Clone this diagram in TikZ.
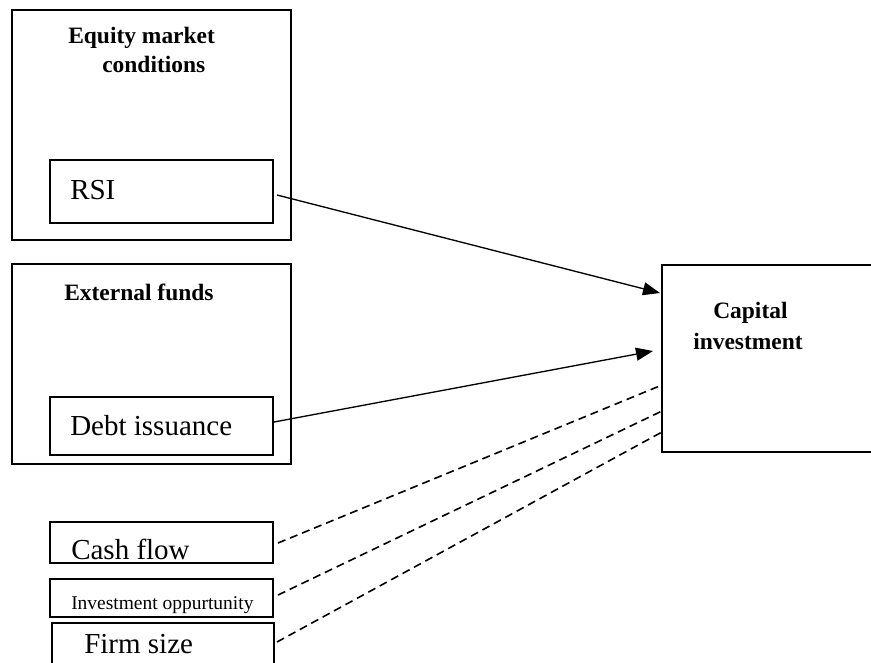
\documentclass[tikz,border=0pt]{standalone}
\usepackage{fontspec}
\setmainfont{Liberation Serif}
\usetikzlibrary{arrows.meta,calc}
\tikzset{
  boxnode/.style={draw, line width=1.5pt, inner sep=0pt, outer sep=0pt, rectangle},
  bigtext/.style={anchor=base west, inner sep=0pt, font=\fontsize{21.75}{26}\selectfont},
  boldtext/.style={anchor=base west, inner sep=0pt, font=\bfseries\fontsize{17.6}{21}\selectfont},
  smalltext/.style={anchor=base west, inner sep=0pt, font=\fontsize{14.6}{17}\selectfont},
  conn/.style={line width=1pt, -{Triangle[length=12.75pt,width=9.75pt]}},
  dconn/.style={line width=1.2pt, dash pattern=on 6pt off 3.75pt},
}
\begin{document}
\begin{tikzpicture}[x=0.75pt,y=-0.75pt]
\useasboundingbox (0,0) rectangle (871,662);
% outer boxes
\node[boxnode, minimum width=279*0.75pt, minimum height=230.5*0.75pt] (eq) at (151.5,125) {};
\node[boxnode, minimum width=279*0.75pt, minimum height=200*0.75pt] (ext) at (151.5,364) {};
% inner boxes
\node[boxnode, minimum width=223*0.75pt, minimum height=63*0.75pt] (rsi) at (161.5,191.5) {};
\node[boxnode, minimum width=223*0.75pt, minimum height=58*0.75pt] (debt) at (161.5,426) {};
\node[boxnode, minimum width=223*0.75pt, minimum height=41*0.75pt] (cash) at (161.5,542.5) {};
\node[boxnode, minimum width=223*0.75pt, minimum height=38*0.75pt] (inv) at (161.5,598) {};
\node[boxnode, minimum width=222*0.75pt, minimum height=66*0.75pt] (firm) at (163,656) {};
\node[boxnode, minimum width=218*0.75pt, minimum height=187*0.75pt] (cap) at (771,358.5) {};
% texts
\node[boldtext] (t1) at (68,43) {Equity market};
\node[boldtext] (t2) at (102,72) {conditions};
\node[bigtext] (t3) at (70,199) {RSI};
\node[boldtext] (t4) at (64,300.5) {External funds};
\node[bigtext] (t5) at (70,435) {Debt issuance};
\node[bigtext] (t6) at (71,559) {Cash flow};
\node[smalltext] (t7) at (71,609) {Investment oppurtunity};
\node[bigtext] (t8) at (84,653) {Firm size};
\node[boldtext] (t9) at (713,318) {Capital};
\node[boldtext] (t10) at (693,349) {investment};
% connectors
\draw[conn] ($(rsi.east)+(4,3.5)$) -- ($(cap.west)+(-2,-65.5)$);
\draw[conn] ($(debt.east)+(1,-4)$) -- ($(cap.west)+(-9,-7.5)$);
\draw[dconn] ($(cash.east)+(5,0.5)$) -- ($(cap.west)+(0,26.5)$);
\draw[dconn] ($(inv.east)+(5,-3)$) -- ($(cap.west)+(0,52.5)$);
\draw[dconn] ($(firm.east)+(3,-14)$) -- ($(cap.west)+(0,73.5)$);
\end{tikzpicture}
\end{document}
